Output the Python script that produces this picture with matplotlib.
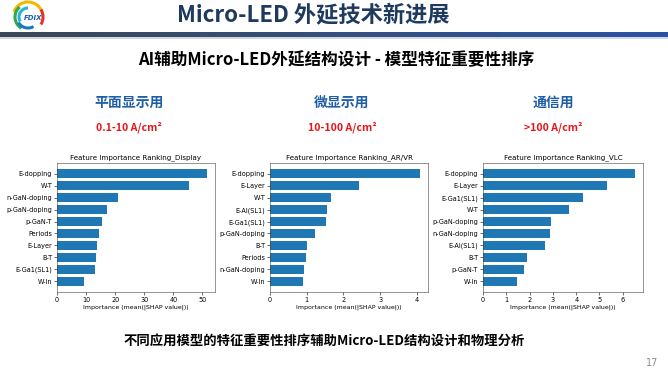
import numpy as np
import matplotlib
matplotlib.use("Agg")
import matplotlib.pyplot as plt
from matplotlib.colors import LinearSegmentedColormap
from matplotlib.patches import Arc

# ── fonts ──────────────────────────────────────────────────────────────────────
CJK = ["Noto Sans CJK SC", "DejaVu Sans"]
plt.rcParams["font.family"] = ["DejaVu Sans"]

# ── data ───────────────────────────────────────────────────────────────────────
disp_features = ["E-dopping", "W-T", "n-GaN-doping", "p-GaN-doping", "p-GaN-T",
                 "Periods", "E-Layer", "B-T", "E-Ga1(SL1)", "W-In"]
disp_values = [51.8, 45.5, 21.0, 17.1, 15.6, 14.4, 13.7, 13.5, 13.2, 9.4]

arvr_features = ["E-dopping", "E-Layer", "W-T", "E-Al(SL1)", "E-Ga1(SL1)",
                 "p-GaN-doping", "B-T", "Periods", "n-GaN-doping", "W-In"]
arvr_values = [4.10, 2.43, 1.67, 1.55, 1.53, 1.22, 1.00, 0.99, 0.92, 0.90]

vlc_features = ["E-dopping", "E-Layer", "E-Ga1(SL1)", "W-T", "p-GaN-doping",
                "n-GaN-doping", "E-Al(SL1)", "B-T", "p-GaN-T", "W-In"]
vlc_values = [6.54, 5.33, 4.28, 3.67, 2.93, 2.88, 2.64, 1.87, 1.78, 1.46]

panel_titles = ["Feature Importance Ranking_Display",
                "Feature Importance Ranking_AR/VR",
                "Feature Importance Ranking_VLC"]
app_names = ["平面显示用", "微显示用", "通信用"]
current_ranges = ["0.1-10 A/cm²", "10-100 A/cm²", ">100 A/cm²"]

slide_title = "Micro-LED 外延技术新进展"
subtitle = "AI辅助Micro-LED外延结构设计 - 模型特征重要性排序"
footer = "不同应用模型的特征重要性排序辅助Micro-LED结构设计和物理分析"
page_no = "17"

# ── colours ────────────────────────────────────────────────────────────────────
C_NAVY = "#1f3a5f"
C_BLUE_TXT = "#1f5ea6"
C_RED = "#e8141c"
C_BAR = "#1f77b4"

W, H = 668, 372
fig = plt.figure(figsize=(W / 100, H / 100), dpi=100, facecolor="white")

# background axis in pixel coordinates (slide decoration + text)
bg = fig.add_axes([0, 0, 1, 1])
bg.set_xlim(0, W)
bg.set_ylim(H, 0)
bg.axis("off")

# header gradient line + soft shadow
grad = np.linspace(0, 1, 256).reshape(1, -1)
cmap_line = LinearSegmentedColormap.from_list("hdr", ["#3c4656", "#34507e", "#2a52a3"])
bg.imshow(grad, cmap=cmap_line, extent=(0, W, 37.5, 33), aspect="auto", zorder=1)
bg.imshow(grad, cmap=LinearSegmentedColormap.from_list("sh", ["#c9ccd1", "#c9d0de"]),
          extent=(0, W, 39.5, 37.5), aspect="auto", zorder=1, alpha=0.8)

# logo (rough rainbow ring + FDIX)
for r, col, t1, t2 in [(15, "#f5b800", 200, 340), (13, "#2fa84f", 120, 230),
                       (11, "#1d78c8", 60, 150), (15, "#e5352b", 330, 390),
                       (9, "#27b5d6", 150, 270)]:
    bg.add_patch(Arc((28, 17), 2 * r, 2 * r, theta1=t1, theta2=t2,
                     color=col, lw=2.2, zorder=2))
bg.text(33, 17.5, "FDIX", fontsize=5, fontstyle="italic", fontweight="bold",
        color="#1d5fae", ha="center", va="center", zorder=3)

# titles
bg.text(313, 16, slide_title, family=CJK, fontsize=16, fontweight="bold",
        color=C_NAVY, ha="center", va="center")
bg.text(336, 60, subtitle, family=CJK, fontsize=12, fontweight="bold",
        color="black", ha="center", va="center")

col_x = [129, 342, 553]
for x, name, rng in zip(col_x, app_names, current_ranges):
    bg.text(x, 103, name, family=CJK, fontsize=10, fontweight="bold",
            color=C_BLUE_TXT, ha="center", va="center")
    bg.text(x, 127, rng, family=CJK, fontsize=7.6, fontweight="bold",
            color=C_RED, ha="center", va="center")

bg.text(324, 341, footer, family=CJK, fontsize=9.6, fontweight="bold",
        color="black", ha="center", va="center")
bg.text(652, 363, page_no, fontsize=7, color="#8c8c8c", ha="center", va="center")

# ── bar panels ─────────────────────────────────────────────────────────────────
panels = [
    (57, 158, disp_features, disp_values, [0, 10, 20, 30, 40, 50]),
    (270, 158, arvr_features, arvr_values, [0, 1, 2, 3, 4]),
    (483, 160, vlc_features, vlc_values, [0, 1, 2, 3, 4, 5, 6]),
]
top_px, bot_px = 163, 292

for (left, width, feats, vals, ticks), title in zip(panels, panel_titles):
    ax = fig.add_axes([left / W, 1 - bot_px / H, width / W, (bot_px - top_px) / H])
    y = np.arange(len(feats))
    ax.barh(y, vals, height=0.8, color=C_BAR)
    ax.set_yticks(y)
    ax.set_yticklabels(feats)
    ax.invert_yaxis()
    ax.set_xticks(ticks)
    ax.set_title(title, fontsize=5.1, pad=3)
    ax.set_xlabel("Importance (mean(|SHAP value|))", fontsize=4.5, labelpad=1.5)
    ax.tick_params(labelsize=4.7, length=2, width=0.4, pad=1.5)
    for sp in ax.spines.values():
        sp.set_linewidth(0.4)
        sp.set_color("#444444")

fig.savefig("out.png", dpi=100, facecolor="white")
